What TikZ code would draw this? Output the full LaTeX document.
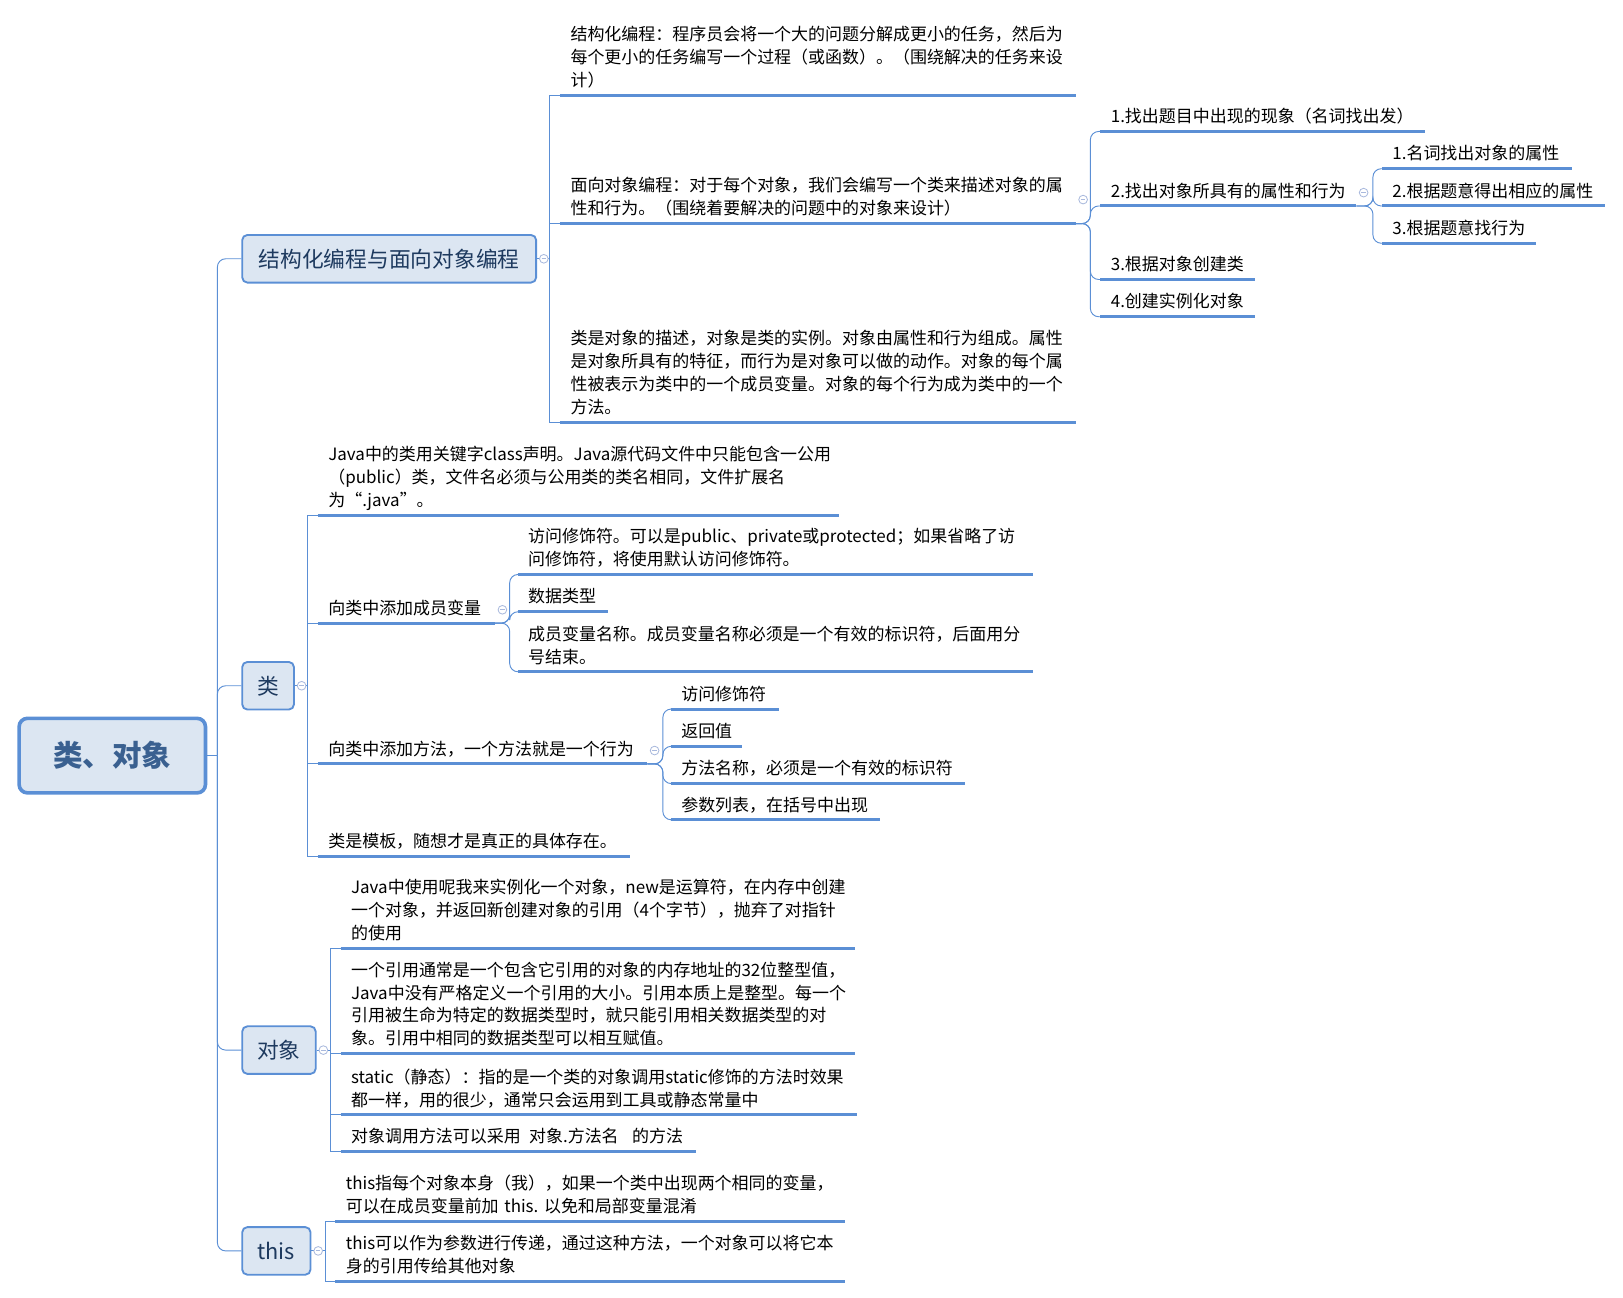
\documentclass[tikz,border=0pt]{standalone}
\usepackage{fontspec}
\setmainfont{Noto Sans CJK SC}
\usetikzlibrary{calc}
\definecolor{lineblue}{HTML}{5B8FD5}
\definecolor{boxfill}{HTML}{DCE6F2}
\definecolor{boxtext}{HTML}{1E3A5F}
\definecolor{roottext}{HTML}{3A6090}
\definecolor{foldc}{HTML}{A9B9DD}
\newcommand\normtext{\fontsize{16.4}{22.2}\selectfont}
\begin{document}
\begin{tikzpicture}[x=1pt,y=-1pt,
 topic/.style={font=\normtext, align=left, anchor=south west, inner xsep=10pt, inner ysep=1.6pt, text width=#1pt, execute at end node=\strut},
 ul/.style={draw=lineblue, line width=2.9pt},
 conn/.style={draw=lineblue, line width=0.9pt},
 curv/.style={conn, rounded corners=8pt},
 lone/.style={draw=lineblue, line width=1.8pt, fill=boxfill, rounded corners=5pt, text=boxtext, font=\fontsize{21}{25}\selectfont, minimum height=46pt, inner sep=0pt},
 rootbox/.style={draw=lineblue, line width=3.5pt, fill=boxfill, rounded corners=8pt, text=roottext, font=\fontsize{28.5}{32}\selectfont\bfseries, minimum width=180pt, minimum height=72pt, inner sep=0pt},
 foldmark/.pic={\draw[foldc, line width=0.8pt, fill=white] (0,0) circle (4.2pt); \draw[foldc, line width=0.8pt] (-2.2pt,0) -- (2.2pt,0);}
]
\useasboundingbox (0,0) rectangle (1568,1254);

% root and level-1
\node[rootbox] (root) at (108.5,730) {类、对象};
\coordinate (T0) at (210,730);
\node[lone, minimum width=284pt] (s) at (376,250) {结构化编程与面向对象编程};
\node[lone, minimum width=50pt] (lei) at (259,662.5) {类};
\node[lone, minimum width=71pt] (dx) at (269.5,1014.5) {对象};
\node[lone, minimum width=66pt] (th) at (267,1208.5) {this};

% structured vs OO
\node[topic=478] (A) at (541,92) {结构化编程：程序员会将一个大的问题分解成更小的任务，然后为\\每个更小的任务编写一个过程（或函数）。（围绕解决的任务来设\\计）};
\node[topic=478] (B) at (541,216) {面向对象编程：对于每个对象，我们会编写一个类来描述对象的属\\性和行为。（围绕着要解决的问题中的对象来设计）};
\node[topic=478] (C) at (541,408) {类是对象的描述，对象是类的实例。对象由属性和行为组成。属性\\是对象所具有的特征，而行为是对象可以做的动作。对象的每个属\\性被表示为类中的一个成员变量。对象的每个行为成为类中的一个\\方法。};
\node[topic=293] (b1) at (1063,127) {1.找出题目中出现的现象（名词找出发）};
\node[topic=227] (b2) at (1063,199) {2.找出对象所具有的属性和行为};
\node[topic=129] (b3) at (1063,270) {3.根据对象创建类};
\node[topic=129] (b4) at (1063,306) {4.创建实例化对象};
\node[topic=163] (c1) at (1335,163) {1.名词找出对象的属性};
\node[topic=195] (c2) at (1335,199) {2.根据题意得出相应的属性};
\node[topic=129] (c3) at (1335,235) {3.根据题意找行为};

% class
\node[topic=483] (D) at (307,498) {Java中的类用关键字class声明。Java源代码文件中只能包含一公用\\（public）类，文件名必须与公用类的类名相同，文件扩展名\\为“.java”。};
\node[topic=151] (E) at (307,602) {向类中添加成员变量};
\node[topic=298] (F) at (307,738) {向类中添加方法，一个方法就是一个行为};
\node[topic=281] (G) at (307,827) {类是模板，随想才是真正的具体存在。};
\node[topic=478] (e1) at (500,555) {访问修饰符。可以是public、private或protected；如果省略了访\\问修饰符，将使用默认访问修饰符。};
\node[topic=67] (e2) at (500,591) {数据类型};
\node[topic=478] (e3) at (500,649) {成员变量名称。成员变量名称必须是一个有效的标识符，后面用分\\号结束。};
\node[topic=84] (f1) at (648,685) {访问修饰符};
\node[topic=48] (f2) at (648,721) {返回值};
\node[topic=264] (f3) at (648,757) {方法名称，必须是一个有效的标识符};
\node[topic=182] (f4) at (648,792) {参数列表，在括号中出现};

% object
\node[topic=477] (H) at (329,916) {Java中使用呢我来实例化一个对象，new是运算符，在内存中创建\\一个对象，并返回新创建对象的引用（4个字节），抛弃了对指针\\的使用};
\node[topic=477] (I) at (329,1018) {一个引用通常是一个包含它引用的对象的内存地址的32位整型值，\\Java中没有严格定义一个引用的大小。引用本质上是整型。每一个\\引用被生命为特定的数据类型时，就只能引用相关数据类型的对\\象。引用中相同的数据类型可以相互赋值。};
\node[topic=479] (J) at (329,1077) {static（静态）：指的是一个类的对象调用static修饰的方法时效果\\都一样，用的很少，通常只会运用到工具或静态常量中};
\node[topic=323] (K) at (329,1112) {对象调用方法可以采用\hspace{8pt}对象.方法名\hspace{13pt}的方法};

% this
\node[topic=472] (L) at (324,1180) {this指每个对象本身（我），如果一个类中出现两个相同的变量，\\可以在成员变量前加~this.~以免和局部变量混淆};
\node[topic=472] (M) at (324,1238) {this可以作为参数进行传递，通过这种方法，一个对象可以将它本\\身的引用传给其他对象};

% main trunk
\draw[conn] (root.east) -- (T0);
\foreach \n in {s,lei,dx,th} \draw[curv] (T0) |- (\n.west);

% square sub-trunks
\coordinate (sJ) at (531,250);
\draw[conn] (s.east) -- (sJ);
\foreach \n in {A,B,C} \draw[conn] (sJ) |- (\n.south west);
\coordinate (leiJ) at (297,662.5);
\draw[conn] (lei.east) -- (leiJ);
\foreach \n in {D,E,F,G} \draw[conn] (leiJ) |- (\n.south west);
\coordinate (dxJ) at (319,1014.5);
\draw[conn] (dx.east) -- (dxJ);
\foreach \n in {H,I,J,K} \draw[conn] (dxJ) |- (\n.south west);
\coordinate (thJ) at (314,1208.5);
\draw[conn] (th.east) -- (thJ);
\foreach \n in {L,M} \draw[conn] (thJ) |- (\n.south west);

% curved brackets
\foreach \n in {b1,b2,b3,b4} \draw[curv] (B.south east) -- ++(14,0) |- (\n.south west);
\foreach \n in {c1,c2,c3} \draw[curv] (b2.south east) -- ++(16,0) |- (\n.south west);
\foreach \n in {e1,e2,e3} \draw[curv] (E.south east) -- ++(14,0) |- (\n.south west);
\foreach \n in {f1,f2,f3,f4} \draw[curv] (F.south east) -- ++(15,0) |- (\n.south west);

% underlines
\foreach \n in {A,B,C,b1,b2,b3,b4,c1,c2,c3,D,E,F,G,e1,e2,e3,f1,f2,f3,f4,H,I,J,K,L,M}
  \draw[ul] (\n.south west) -- (\n.south east);

% fold marks
\foreach \n in {s,lei,dx,th} \pic at ($(\n.east)+(6.5,0)$) {foldmark};
\foreach \n in {B,b2,E,F} \pic at ($(\n.east)+(7,0)$) {foldmark};
\end{tikzpicture}
\end{document}
